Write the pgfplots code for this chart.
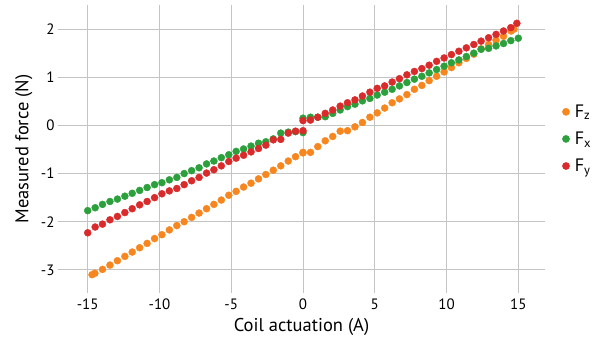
\documentclass[border=0pt]{standalone}
\usepackage{fontspec}
\setmainfont{PT Sans}
\usepackage{pgfplots}
\pgfplotsset{compat=1.18}
\definecolor{cz}{HTML}{F7861F}
\definecolor{cx}{HTML}{2CA03C}
\definecolor{cy}{HTML}{D92B2B}
\definecolor{gridc}{HTML}{C4C4C4}
\begin{document}
\begin{tikzpicture}
\useasboundingbox (-58pt,-46pt) rectangle (550pt,293pt);
\begin{axis}[
  scale only axis,
  width=487pt, height=288pt,
  xmin=-17.07, xmax=16.86,
  ymin=-3.48, ymax=2.50,
  axis line style={draw=none},
  grid=major,
  major grid style={gridc, line width=0.9pt},
  xtick={-15,-10,...,15},
  ytick={-3,-2,...,2},
  major tick length=0pt,
  /pgf/number format/assume math mode=true,
  tick label style={font=\fontsize{15}{17}\selectfont},
  xticklabel style={yshift=-2pt},
  xlabel={Coil actuation (A)},
  ylabel={Measured force (N)},
  label style={font=\fontsize{18.5}{22}\selectfont},
  xlabel style={at={(axis description cs:0.5,0)}, anchor=north, yshift=-22pt},
  ylabel style={at={(axis description cs:0,0.5)}, anchor=south, yshift=22pt},
  legend style={at={(rel axis cs:1,0.535)}, anchor=west, draw=none, fill=none,
    font=\fontsize{18}{20}\selectfont, row sep=9pt, xshift=14pt,
    nodes={inner xsep=5pt}},
  legend cell align=left,
  legend image code/.code={\fill (0pt,0pt) circle (3.6pt);},
  clip=false,
]
\addplot[only marks, mark=*, mark size=3.5pt, color=cz, mark options={draw=cz, fill=cz}] table {
x y
-14.70 -3.10
-14.50 -3.07
-13.97 -2.99
-13.45 -2.90
-12.93 -2.81
-12.41 -2.72
-11.90 -2.63
-11.38 -2.54
-10.86 -2.45
-10.34 -2.35
-9.83 -2.27
-9.31 -2.17
-8.79 -2.08
-8.28 -2.00
-7.76 -1.91
-7.24 -1.82
-6.72 -1.73
-6.21 -1.64
-5.69 -1.55
-5.17 -1.45
-4.66 -1.37
-4.14 -1.28
-3.62 -1.20
-3.10 -1.11
-2.59 -1.02
-2.07 -0.93
-1.55 -0.84
-1.03 -0.74
-0.52 -0.65
0.00 -0.57
0.00 -0.56
0.52 -0.56
1.03 -0.44
1.55 -0.32
2.07 -0.23
2.59 -0.12
3.10 -0.11
3.62 -0.03
4.14 0.06
4.66 0.17
5.17 0.26
5.69 0.36
6.21 0.47
6.72 0.55
7.24 0.64
7.76 0.75
8.28 0.83
8.79 0.93
9.31 1.02
9.83 1.11
10.34 1.20
10.86 1.30
11.38 1.39
11.90 1.48
12.41 1.59
12.93 1.68
13.45 1.77
13.97 1.85
14.50 1.96
14.70 2.00
};
\addlegendentry{F\textsubscript{z}}
\addplot[only marks, mark=*, mark size=3.5pt, color=cx, mark options={draw=cx, fill=cx}] table {
x y
-15.00 -1.77
-14.48 -1.71
-13.97 -1.64
-13.45 -1.58
-12.93 -1.53
-12.41 -1.47
-11.90 -1.41
-11.38 -1.35
-10.86 -1.29
-10.34 -1.23
-9.83 -1.19
-9.31 -1.13
-8.79 -1.08
-8.28 -1.00
-7.76 -0.94
-7.24 -0.88
-6.72 -0.80
-6.21 -0.74
-5.69 -0.67
-5.17 -0.61
-4.66 -0.54
-4.14 -0.49
-3.62 -0.43
-3.10 -0.37
-2.59 -0.34
-2.07 -0.28
-1.55 -0.16
-1.03 -0.14
-0.52 -0.13
0.00 -0.15
0.00 0.15
0.52 0.17
1.03 0.17
1.55 0.18
2.07 0.25
2.59 0.32
3.10 0.39
3.62 0.44
4.14 0.51
4.66 0.56
5.17 0.63
5.69 0.69
6.21 0.75
6.72 0.82
7.24 0.89
7.76 0.96
8.28 1.02
8.79 1.09
9.31 1.16
9.83 1.23
10.34 1.30
10.86 1.36
11.38 1.43
11.90 1.50
12.41 1.58
12.93 1.60
13.45 1.65
13.97 1.70
14.48 1.76
15.00 1.81
};
\addlegendentry{F\textsubscript{x}}
\addplot[only marks, mark=*, mark size=3.5pt, color=cy, mark options={draw=cy, fill=cy}] table {
x y
-15.00 -2.23
-14.48 -2.11
-13.97 -2.05
-13.45 -1.96
-12.93 -1.89
-12.41 -1.81
-11.90 -1.73
-11.38 -1.65
-10.86 -1.58
-10.34 -1.50
-9.83 -1.42
-9.31 -1.36
-8.79 -1.31
-8.28 -1.23
-7.76 -1.15
-7.24 -1.08
-6.72 -0.99
-6.21 -0.92
-5.69 -0.84
-5.17 -0.75
-4.66 -0.68
-4.14 -0.62
-3.62 -0.55
-3.10 -0.48
-2.59 -0.41
-2.07 -0.30
-1.55 -0.29
-1.03 -0.16
-0.52 -0.12
0.00 -0.11
0.00 0.10
0.52 0.11
1.03 0.17
1.55 0.25
2.07 0.32
2.59 0.40
3.10 0.47
3.62 0.53
4.14 0.61
4.66 0.69
5.17 0.77
5.69 0.82
6.21 0.90
6.72 0.97
7.24 1.05
7.76 1.12
8.28 1.18
8.79 1.25
9.31 1.33
9.83 1.40
10.34 1.47
10.86 1.54
11.38 1.61
11.90 1.68
12.41 1.75
12.93 1.82
13.45 1.89
13.97 1.96
14.48 2.03
14.90 2.12
};
\addlegendentry{F\textsubscript{y}}
\end{axis}
\end{tikzpicture}
\end{document}
